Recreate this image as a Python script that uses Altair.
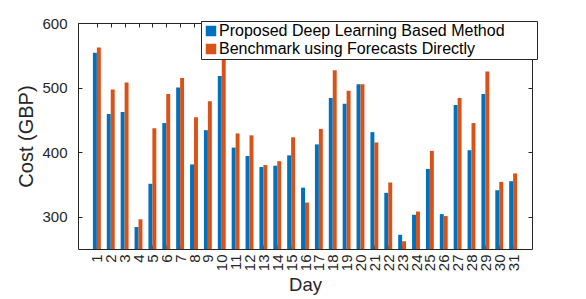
import altair as alt
import pandas as pd

days = list(range(1, 32))
proposed = [554, 459, 462, 284, 351, 445, 500, 381, 434, 518, 407, 394, 377, 379, 395,
            345, 412, 484, 475, 505, 431, 337, 272, 303, 374, 304, 473, 403, 490, 341, 355]
benchmark = [562, 497, 508, 296, 437, 490, 515, 454, 479, 545, 429, 426, 380, 386, 423,
             322, 436, 527, 495, 505, 415, 353, 262, 308, 402, 301, 484, 445, 525, 354, 367]
series_names = ["Proposed Deep Learning Based Method", "Benchmark using Forecasts Directly"]
colors = ["#0072BD", "#D95319"]
y_ticks = [300, 400, 500, 600]

rows = []
for d, p, b in zip(days, proposed, benchmark):
    rows.append({"day": d, "series": series_names[0], "idx": 0, "cost": p})
    rows.append({"day": d, "series": series_names[1], "idx": 1, "cost": b})
df = pd.DataFrame(rows)

FONT = "Liberation Sans"
INK = "#262626"
xscale = alt.Scale(domain=[0, 32], nice=False, zero=False)
yscale = alt.Scale(domain=[250, 600], nice=False, zero=False)

base = alt.Chart(df).transform_calculate(
    x0="datum.day - 0.285 + datum.idx * 0.285",
    x1="datum.day + datum.idx * 0.285",
)

# trailing blank space inside the legend box (non-trimmable end char keeps it)
legend_pad = "\u00a0\u00a0\u00a0\u00a0\u2800"

bars = base.mark_bar(clip=True).encode(
    x=alt.X("x0:Q", scale=xscale,
            axis=alt.Axis(values=days, title="Day", labelAngle=-90, orient="bottom",
                          offset=-4, tickSize=4, domain=False, grid=False,
                          labelOverlap=False, labelPadding=5, labelFontSize=15,
                          titleFontSize=18.5, titleFontWeight="normal", titlePadding=5,
                          labelFont=FONT, titleFont=FONT, labelColor=INK,
                          titleColor=INK, tickColor=INK)),
    x2="x1:Q",
    y=alt.Y("cost:Q", scale=yscale,
            axis=alt.Axis(values=y_ticks, title="Cost (GBP)", orient="left",
                          offset=-4, tickSize=4, domain=False, grid=False,
                          labelPadding=11, labelFontSize=15, titleFontSize=20,
                          titleFontWeight="normal", titlePadding=5,
                          labelFont=FONT, titleFont=FONT, labelColor=INK,
                          titleColor=INK, tickColor=INK)),
    y2=alt.datum(250),
    color=alt.Color("series:N", scale=alt.Scale(domain=series_names, range=colors),
                    sort=series_names,
                    legend=alt.Legend(title=None, orient="none", legendX=123, legendY=-2,
                                      symbolType="square", symbolSize=110,
                                      symbolStrokeWidth=0, labelFontSize=16,
                                      labelFont=FONT, labelColor="#000000",
                                      labelOffset=0, rowPadding=2, padding=2,
                                      labelExpr="datum.label + '" + legend_pad + "'",
                                      strokeColor=INK, fillColor="white",
                                      labelLimit=500)),
)

frame = base.mark_bar(opacity=0).encode(
    x=alt.X("x0:Q", scale=xscale,
            axis=alt.Axis(values=days, title=None, labels=False, orient="top",
                          offset=-4, tickSize=4, domain=False, grid=False,
                          tickColor=INK)),
    y=alt.Y("cost:Q", scale=yscale,
            axis=alt.Axis(values=y_ticks, title=None, labels=False, orient="right",
                          offset=-4, tickSize=4, domain=False, grid=False,
                          tickColor=INK)),
)

chart = alt.layer(frame, bars).resolve_axis(x="independent", y="independent").properties(
    width=454, height=226,
    padding={"left": 8, "top": 8, "right": 5, "bottom": 0},
).configure_view(stroke=INK, strokeWidth=1)

chart.save("out.html", embed_options={"renderer": "svg", "actions": False})
